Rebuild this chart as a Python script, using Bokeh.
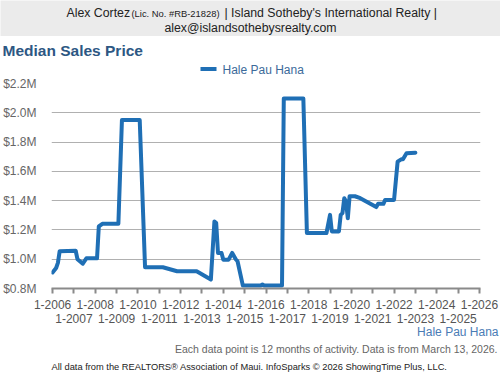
from bokeh.plotting import figure
from bokeh.layouts import column
from bokeh.models import Range1d, FixedTicker, Label, CustomJSTickFormatter
from bokeh.embed import file_html
from bokeh.resources import INLINE

# ---- data ----
dates = ["2006-01", "2006-03", "2006-04", "2006-05", "2007-02", "2007-03", "2007-04", "2007-06",
         "2007-08", "2008-02", "2008-03", "2008-05", "2009-02", "2009-04", "2010-02", "2010-05",
         "2011-03", "2011-11", "2012-10", "2013-06", "2013-08", "2013-09", "2013-10", "2013-12",
         "2014-01", "2014-04", "2014-06", "2014-08", "2014-09", "2014-12", "2015-10", "2015-11",
         "2015-12", "2016-10", "2016-11", "2017-10", "2017-12", "2018-11", "2019-01", "2019-02",
         "2019-06", "2019-07", "2019-08", "2019-09", "2019-10", "2019-11", "2019-12", "2020-03",
         "2020-06", "2021-03", "2021-04", "2021-07", "2021-08", "2022-01", "2022-03", "2022-05",
         "2022-06", "2022-08", "2023-01"]
median_price = [0.91, 0.94, 0.975, 1.055, 1.058, 1.00, 0.99, 0.97,
                1.006, 1.006, 1.224, 1.242, 1.242, 1.95, 1.95, 0.945,
                0.945, 0.918, 0.918, 0.861, 1.258, 1.247, 1.043, 1.043,
                0.997, 0.997, 1.043, 1.000, 0.986, 0.82, 0.82, 0.827,
                0.82, 0.82, 2.097, 2.097, 1.179, 1.179, 1.303, 1.19,
                1.19, 1.303, 1.315, 1.417, 1.394, 1.28, 1.43, 1.43,
                1.417, 1.356, 1.378, 1.378, 1.405, 1.405, 1.666, 1.682,
                1.682, 1.723, 1.727]
year_ticks = list(range(2006, 2027))
price_ticks = [0.8, 1.0, 1.2, 1.4, 1.6, 1.8, 2.0, 2.2]
series_name = "Hale Pau Hana"

x = [int(d[:4]) + (int(d[5:]) - 1) / 12 for d in dates]

FONT = "Liberation Sans"
BLUE = "#1f6fb5"
NAVY = "#2d5783"
W = 500


def panel(h, bg="white", **kw):
    f = figure(width=W, height=h, output_backend="svg", toolbar_location=None,
               x_range=Range1d(0, W), y_range=Range1d(h, 0),
               x_axis_type=None, y_axis_type=None,
               min_border=0, min_border_left=0, min_border_right=0,
               min_border_top=0, min_border_bottom=0, frame_align=False, **kw)
    f.outline_line_color = None
    f.grid.visible = False
    f.background_fill_color = bg
    f.border_fill_color = bg
    return f


def lab(f, cx, cy, text, size, color, align="left", style="normal"):
    f.add_layout(Label(x=cx, y=cy, text=text, text_font=FONT, text_font_size=size,
                       text_color=color, text_align=align, text_baseline="middle",
                       text_font_style=style))


# ---- header band (y 0..36) ----
hdr = panel(36, "#ebebeb")
lab(hdr, 66, 12, "Alex Cortez", "12.3px", "#222222")
lab(hdr, 131, 13, "(Lic. No. #RB-21828)", "9.4px", "#222222")
lab(hdr, 224, 12, "| Island Sotheby's International Realty |", "12.3px", "#222222")
lab(hdr, 250, 27, "alex@islandsothebysrealty.com", "12.3px", "#222222", align="center")

# ---- title + legend (y 36..76) ----
ttl = panel(40)
lab(ttl, 2, 14, "Median Sales Price", "15.5px", NAVY, style="bold")
ttl.line([200, 216], [32.5, 32.5], line_color=BLUE, line_width=4)
lab(ttl, 222, 33, series_name, "12px", "#3b6a9a")

# ---- chart (y 76..329), frame 44..480 x 83..289 ----
FL, FR = 44, 480
TOP, FT, FB, BOT = 76, 83, 289, 329
p = figure(width=W, height=BOT - TOP, output_backend="svg", toolbar_location=None,
           x_range=Range1d(2005.95, 2026.05), y_range=Range1d(0.8, 2.2),
           min_border_left=FL, min_border_right=W - FR,
           min_border_top=FT - TOP, min_border_bottom=BOT - FB, frame_align=False)
p.outline_line_color = None
p.background_fill_color = "white"
p.border_fill_color = "white"

p.xgrid.grid_line_color = None
p.ygrid.grid_line_color = "#b0b0b0"
p.ygrid.grid_line_width = 1

p.line(x, median_price, line_color=BLUE, line_width=4, line_join="round", line_cap="round")

p.xaxis.ticker = FixedTicker(ticks=year_ticks)
p.xaxis.formatter = CustomJSTickFormatter(code="""
    const y = Math.round(tick);
    return (y % 2 === 0) ? ("1-" + y) : ("\\n1-" + y);
""")
p.xaxis.axis_line_color = "#8a8a8a"
p.xaxis.axis_line_width = 2
p.xaxis.major_tick_line_color = "#8a8a8a"
p.xaxis.major_tick_line_width = 2
p.xaxis.major_tick_in = 0
p.xaxis.major_tick_out = 5
p.xaxis.minor_tick_line_color = None
p.xaxis.major_label_text_font = FONT
p.xaxis.major_label_text_font_size = "12px"
p.xaxis.major_label_text_color = "#555555"
p.xaxis.major_label_standoff = 4
p.xaxis.major_label_text_line_height = 1.05

p.yaxis.ticker = FixedTicker(ticks=price_ticks)
p.yaxis.formatter = CustomJSTickFormatter(code="return '$' + tick.toFixed(1) + 'M';")
p.yaxis.axis_line_color = None
p.yaxis.major_tick_line_color = None
p.yaxis.minor_tick_line_color = None
p.yaxis.major_label_text_font = FONT
p.yaxis.major_label_text_font_size = "12px"
p.yaxis.major_label_text_color = "#666666"
p.yaxis.major_label_standoff = 9

# ---- footer (y 324..375), slightly overlapping the empty bottom of the chart ----
FTOP = 324
ftr = panel(375 - FTOP, margin=(FTOP - BOT, 0, 0, 0))
lab(ftr, 498, 331 - FTOP, series_name, "12px", "#4a7cb5", align="right")
lab(ftr, 497, 348 - FTOP, "Each data point is 12 months of activity. Data is from March 13, 2026.",
    "10.5px", "#666666", align="right")
lab(ftr, 249, 366 - FTOP,
    "All data from the REALTORS\u00ae Association of Maui. InfoSparks \u00a9 2026 ShowingTime Plus, LLC.",
    "9.3px", "#222222", align="center")

layout = column(hdr, ttl, p, ftr, spacing=0)
open("out.html", "w").write(file_html(layout, INLINE))
